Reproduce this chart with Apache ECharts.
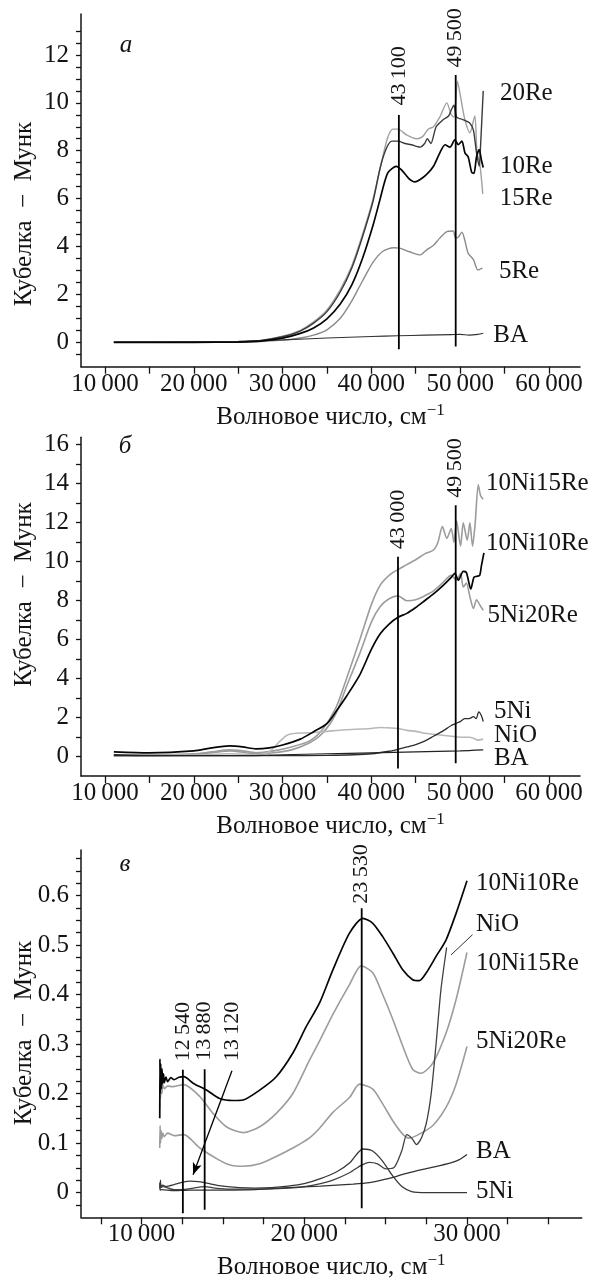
<!DOCTYPE html>
<html><head><meta charset="utf-8">
<script src="https://cdn.jsdelivr.net/npm/echarts@6/dist/echarts.min.js"></script>
<style>html,body{margin:0;padding:0;background:#fff}#c{width:592px;height:1278px}</style>
</head><body><div id="c"></div>
<script>
// ---------------- Panel а ----------------
const aRe15 = [[11000,0],[20000,0],[25000,0.02],[27500,0.08],[30000,0.25],[32000,0.5],[33500,0.85],[35000,1.35],[36500,2.2],[37800,3.2],[39000,4.5],[40200,6.0],[41200,7.6],[41800,8.5],[42400,8.9],[43000,8.9],[44000,8.65],[45100,8.5],[45800,8.6],[46400,8.9],[47000,9.0],[47700,9.4],[48500,10.0],[49000,9.5],[49300,9.4],[49700,10.9],[50050,10.25],[50500,9.35],[51100,8.75],[51650,9.45],[51900,7.9],[52200,7.5],[52550,6.2]];
const aRe20 = [[11000,0],[20000,0],[25000,0.02],[27500,0.07],[30000,0.23],[32000,0.47],[33500,0.8],[35000,1.28],[36500,2.1],[37800,3.1],[39000,4.4],[40200,5.9],[41000,7.3],[41700,8.1],[42300,8.4],[43000,8.4],[43800,8.3],[44500,8.25],[45500,8.15],[46000,8.3],[46300,8.5],[46700,8.3],[47300,9.0],[48100,9.3],[48700,9.45],[49000,9.7],[49300,9.9],[49600,9.4],[50300,9.3],[51100,9.15],[51500,8.85],[51850,7.9],[52150,7.35],[52300,8.2],[52600,10.5]];
const aRe10 = [[11000,0],[20000,0],[25000,0.01],[27500,0.05],[30000,0.17],[32000,0.37],[33500,0.6],[35000,0.98],[36500,1.6],[37800,2.4],[39000,3.5],[40200,4.9],[41000,6.0],[41500,6.7],[41900,7.1],[42800,7.35],[43400,7.2],[44200,6.85],[44900,6.7],[45500,6.8],[46200,7.0],[47000,7.35],[47700,7.9],[48300,8.25],[48850,8.15],[49400,8.45],[49800,8.25],[50200,8.4],[50550,7.9],[50900,7.75],[51300,7.1],[51550,7.05],[51850,7.75],[52150,8.05],[52400,7.6],[52600,7.3]];
const aRe5 = [[11000,0],[20000,0],[25000,0.01],[27500,0.03],[30000,0.09],[32000,0.18],[33500,0.3],[35000,0.52],[36500,1.0],[37600,1.6],[38700,2.35],[39500,2.9],[40200,3.35],[41300,3.8],[42500,3.95],[43200,3.93],[44300,3.78],[45500,3.65],[46200,3.85],[47000,4.05],[47700,4.35],[48500,4.62],[49200,4.65],[49500,4.35],[49800,4.4],[50200,4.6],[50500,4.3],[50900,3.72],[51500,3.45],[52000,3.02],[52500,3.1]];
const aBA = [[11000,0],[20000,0.02],[25000,0.04],[30000,0.1],[35000,0.18],[40000,0.24],[43000,0.27],[46000,0.3],[49000,0.32],[50000,0.33],[51000,0.3],[52000,0.33],[52600,0.38]];
const aPeaks = [43100, 49500];
const aPeakLow = [-0.29, -0.18];
const aPeakHigh = [9.49, 11.16];

// ---------------- Panel б ----------------
const bNi10Re15 = [[11000,0.1],[15000,0.1],[20000,0.15],[22000,0.25],[24000,0.35],[25500,0.3],[27000,0.2],[29000,0.3],[31000,0.5],[33000,0.8],[34500,1.4],[36000,2.5],[37200,4.0],[38700,6.0],[40000,7.8],[41000,8.8],[42000,9.3],[43000,9.6],[44000,9.85],[45000,10.1],[46000,10.4],[47000,10.6],[47500,11.0],[48000,11.8],[48500,11.2],[49000,11.7],[49300,11.0],[49600,12.1],[50050,10.8],[50350,12.0],[50800,11.1],[51100,12.0],[51400,10.8],[51700,12.0],[52040,13.95],[52300,13.4],[52600,13.2]];
const bNi5Re20 = [[11000,0.05],[20000,0.1],[24000,0.3],[27000,0.15],[29000,0.2],[31000,0.35],[33000,0.7],[34500,1.2],[36000,2.2],[37200,3.6],[38700,5.3],[40000,6.9],[41000,7.7],[42000,8.1],[43000,8.25],[44000,8.0],[45000,8.05],[46000,8.25],[47000,8.5],[48000,8.9],[49000,9.3],[49600,9.05],[50050,9.4],[50350,8.7],[50700,8.9],[51100,8.2],[51500,7.6],[51850,8.05],[52200,7.8],[52600,7.5]];
const bNi10Re10 = [[11000,0.25],[15000,0.2],[20000,0.3],[22000,0.45],[24000,0.55],[25500,0.5],[27000,0.4],[28500,0.45],[30000,0.6],[32000,0.9],[33500,1.28],[35000,1.7],[36000,2.3],[37200,3.1],[38700,4.2],[40000,5.5],[41000,6.3],[42000,6.8],[43000,7.15],[44000,7.35],[45000,7.65],[46000,8.0],[47000,8.35],[48000,8.75],[49000,9.2],[49400,9.4],[49800,9.05],[50350,9.5],[50700,9.45],[51200,8.6],[51550,9.2],[51860,9.25],[52200,9.3],[52400,9.8],[52680,10.45]];
const bNi5 = [[11000,0.1],[15000,0.05],[20000,0.05],[25000,0.05],[30000,0.05],[35000,0.07],[38000,0.1],[40000,0.15],[42000,0.28],[43000,0.38],[44000,0.5],[45000,0.62],[46000,0.8],[47000,1.05],[48000,1.3],[49000,1.6],[49500,1.7],[50000,1.8],[50500,1.95],[51000,1.95],[51500,2.05],[51800,1.95],[52100,2.3],[52400,2.1],[52600,1.8]];
const bNiO = [[11000,0.05],[20000,0.08],[24000,0.15],[27000,0.1],[28500,0.25],[29500,0.7],[30500,1.1],[31500,1.2],[33000,1.22],[35000,1.3],[37000,1.38],[39000,1.42],[40000,1.45],[41000,1.5],[42000,1.48],[43000,1.45],[44000,1.35],[45000,1.3],[46000,1.2],[47000,1.15],[48000,1.1],[49000,1.05],[50000,1.0],[51000,1.0],[51500,0.95],[52000,0.85],[52600,0.9]];
const bBA = [[11000,0.05],[25000,0.05],[30000,0.1],[35000,0.15],[40000,0.2],[45000,0.25],[50000,0.3],[52600,0.35]];
const bPeaks = [43000, 49500];
const bPeakLow = [-0.6, -0.34];
const bPeakHigh = [10.26, 12.9];

// ---------------- Panel в ----------------
const cNi10Re10 = [[11120,0.15],[11130,0.27],[11150,0.2],[11180,0.26],[11220,0.21],[11260,0.25],[11300,0.22],[11350,0.24],[11400,0.222],[11500,0.233],[11600,0.224],[11800,0.232],[12000,0.228],[12300,0.233],[12600,0.234],[13170,0.221],[13990,0.207],[14800,0.19],[15620,0.186],[16230,0.187],[17260,0.207],[18280,0.234],[19300,0.282],[20120,0.335],[20940,0.383],[21760,0.45],[22780,0.524],[23600,0.554],[24210,0.544],[24820,0.517],[25440,0.484],[26050,0.45],[26660,0.43],[27070,0.428],[27480,0.443],[28100,0.477],[28710,0.51],[29330,0.564],[30000,0.63]];
const cNi10Re15 = [[11120,0.17],[11140,0.23],[11170,0.19],[11200,0.225],[11250,0.2],[11300,0.218],[11400,0.21],[11600,0.215],[11940,0.214],[12600,0.218],[13580,0.194],[14390,0.16],[15210,0.133],[16230,0.121],[17260,0.133],[18280,0.16],[19300,0.2],[20330,0.268],[21000,0.31],[21760,0.36],[22780,0.42],[23500,0.458],[24210,0.444],[24820,0.40],[25440,0.35],[26050,0.296],[26660,0.249],[27170,0.241],[27890,0.261],[28710,0.322],[29330,0.39],[30000,0.485]];
const cNi5Re20 = [[11120,0.09],[11140,0.135],[11170,0.1],[11200,0.125],[11250,0.11],[11300,0.12],[11400,0.113],[11600,0.12],[12000,0.115],[12600,0.117],[13580,0.09],[14800,0.065],[15500,0.055],[16230,0.053],[17260,0.058],[18280,0.073],[19300,0.09],[20300,0.11],[20940,0.13],[21760,0.162],[22780,0.192],[23400,0.219],[24210,0.209],[24820,0.179],[25440,0.145],[26050,0.118],[26460,0.11],[27070,0.118],[27890,0.135],[28710,0.172],[29330,0.219],[30000,0.295]];
const cNiO = [[11120,0.008],[11150,0.02],[11200,0.01],[11300,0.012],[12000,0.006],[12540,0.006],[13000,0.008],[13880,0.012],[14500,0.009],[15500,0.007],[17000,0.007],[19000,0.009],[20000,0.012],[21000,0.018],[21760,0.025],[22780,0.04],[23500,0.055],[24000,0.061],[24500,0.058],[25000,0.048],[25500,0.05],[26000,0.085],[26300,0.117],[26600,0.11],[26900,0.097],[27200,0.11],[27500,0.14],[27800,0.2],[28100,0.3],[28400,0.41],[28750,0.495]];
const cNi5 = [[11120,0.02],[11140,0.005],[11160,0.025],[11200,0.012],[11300,0.015],[11500,0.012],[12000,0.016],[12540,0.021],[13000,0.023],[13500,0.022],[14000,0.019],[15000,0.013],[16000,0.01],[17000,0.009],[18000,0.01],[19000,0.013],[20000,0.018],[21000,0.028],[22000,0.042],[22800,0.06],[23600,0.088],[24200,0.084],[24800,0.064],[25400,0.035],[26000,0.012],[26600,0.002],[27500,0],[29000,0],[30000,0]];
const cBA = [[11120,0.005],[11200,0.006],[12000,0.004],[13000,0.005],[15000,0.005],[17000,0.006],[19000,0.01],[21000,0.013],[23000,0.017],[24000,0.02],[25000,0.027],[26000,0.036],[27000,0.045],[28000,0.052],[29000,0.06],[29500,0.066],[30000,0.077]];
const cPeaks = [12540, 13880, 23530];
const cPeakLow = [-0.042, -0.035, -0.0315];
const cPeakHigh = [0.248, 0.249, 0.5745];
const cArrowValue = 13120;
const cArrowFrom = [15558, 0.246];
const cArrowTo = [13166, 0.036];
const cNiOLeader = [[29018, 0.48], [30344, 0.521]];

// ---------------- Axes ticks / labels ----------------
const xTicksAB = [10000,15000,20000,25000,30000,35000,40000,45000,50000,55000,60000];
const xLabelsAB = [10000,20000,30000,40000,50000,60000];
const xTicksC = [7500,10000,12500,15000,17500,20000,22500,25000,27500,30000,32500,35000];
const xLabelsC = [10000,20000,30000];
const yLabelsA = [0,2,4,6,8,10,12];
const yLabelsB = [0,2,4,6,8,10,12,14,16];
const yLabelsC = [0,0.1,0.2,0.3,0.4,0.5,0.6];
function steps(from, to, step){ const r=[]; const n=Math.round((to-from)/step); for(let i=0;i<=n;i++) r.push(+(from+i*step).toFixed(4)); return r; }
const yTicksA = steps(-0.5, 13, 0.5);
const yTicksB = steps(0, 16, 1);
const yTicksC = steps(-0.025, 0.675, 0.025);

const FONT = '"Liberation Serif","DejaVu Serif",serif';
const INK = '#141414';
const fmtK = v => String(v).replace(/\B(?=(\d{3})+(?!\d))/g, '\u2009');

function xAxis(gi, min, max, ticks, labels){
  return {type:'value', gridIndex:gi, min, max,
    axisLine:{show:true, onZero:false, lineStyle:{color:INK, width:1.5}},
    axisTick:{show:true, inside:false, length:7, customValues:ticks, lineStyle:{color:INK, width:1.3}},
    axisLabel:{show:true, customValues:labels, margin:5, formatter:fmtK, color:INK, fontFamily:FONT, fontSize:25},
    splitLine:{show:false},
    name:'{m|Волновое число, см}{sup|−1}', nameLocation:'middle', nameGap:35,
    nameTextStyle:{color:INK, fontFamily:FONT, fontSize:25,
      rich:{
        m:{fontSize:25, fontFamily:FONT, color:INK, verticalAlign:'bottom'},
        sup:{fontSize:17, fontFamily:FONT, color:INK, verticalAlign:'bottom', padding:[0,0,11,0]}}}
  };
}
function yAxis(gi, min, max, ticks, labels, fmt){
  return {type:'value', gridIndex:gi, min, max,
    axisLine:{show:true, onZero:false, lineStyle:{color:INK, width:1.5}},
    axisTick:{show:true, inside:false, length:5, customValues:ticks, lineStyle:{color:INK, width:1.3}},
    axisLabel:{show:true, customValues:labels, margin:12, formatter:fmt, color:INK, fontFamily:FONT, fontSize:25},
    splitLine:{show:false}
  };
}
function curve(gi, name, data, color, width, off){
  return {type:'line', name, xAxisIndex:gi, yAxisIndex:gi, data, symbol:'none', showSymbol:false,
    smooth:0.25, lineStyle:{color, width}, animation:false, emphasis:{disabled:true}, silent:true,
    endLabel:{show:true, formatter:name, distance:0, offset:off, color:INK, fontFamily:FONT, fontSize:25, align:'left', verticalAlign:'middle'}};
}
const TRANSP = {color:'rgba(0,0,0,0)', borderWidth:0};
function vline(gi, x, lo, hi, dist){
  return {type:'line', xAxisIndex:gi, yAxisIndex:gi, symbol:'circle', symbolSize:1, showSymbol:true, itemStyle:TRANSP,
    lineStyle:{color:'#000', width:1.8}, animation:false, silent:true, z:5, emphasis:{disabled:true},
    data:[[x,lo], {value:[x,hi], label:{show:true, formatter:fmtK(x), position:'top', rotate:90, align:'left', verticalAlign:'middle',
      distance:dist, color:INK, fontFamily:FONT, fontSize:22}}]};
}

const series = [
  curve(0,'15Re',aRe15,'#a0a0a0',1.4,[17,4.5]),
  curve(0,'5Re',aRe5,'#8a8a8a',1.4,[16.6,3.7]),
  curve(0,'BA',aBA,'#333333',1.1,[10,1.8]),
  curve(0,'20Re',aRe20,'#3a3a3a',1.4,[16.7,2.5]),
  curve(0,'10Re',aRe10,'#050505',1.7,[16.7,-1]),
  curve(1,'10Ni15Re',bNi10Re15,'#9c9c9c',1.6,[2.7,-16]),
  curve(1,'5Ni20Re',bNi5Re20,'#9c9c9c',1.6,[4.3,5]),
  curve(1,'NiO',bNiO,'#b8b8b8',1.6,[10.7,-4]),
  curve(1,'5Ni',bNi5,'#2c2c2c',1.3,[10.7,-10]),
  curve(1,'BA',bBA,'#222222',1.2,[10.7,8.4]),
  curve(1,'10Ni10Re',bNi10Re10,'#050505',1.7,[2,-9.6]),
  curve(2,'10Ni15Re',cNi10Re15,'#9c9c9c',1.6,[9,10.7]),
  curve(2,'5Ni20Re',cNi5Re20,'#9c9c9c',1.6,[9,-5]),
  Object.assign(curve(2,'NiO',cNiO,'#404040',1.3,[29.4,-22.7]), {
    markLine:{silent:true, symbol:'none', animation:false, label:{show:false}, emphasis:{disabled:true},
      lineStyle:{color:'#333', width:1, type:'solid'},
      data:[[{coord:cNiOLeader[0]},{coord:cNiOLeader[1]}]]}}),
  curve(2,'BA',cBA,'#333333',1.3,[9,-3]),
  curve(2,'5Ni',cNi5,'#383838',1.3,[9,-1]),
  curve(2,'10Ni10Re',cNi10Re10,'#050505',1.7,[9,2.5]),
  vline(0,aPeaks[0],aPeakLow[0],aPeakHigh[0],9),
  vline(0,aPeaks[1],aPeakLow[1],aPeakHigh[1],7),
  vline(1,bPeaks[0],bPeakLow[0],bPeakHigh[0],7),
  vline(1,bPeaks[1],bPeakLow[1],bPeakHigh[1],7),
  vline(2,cPeaks[0],cPeakLow[0],cPeakHigh[0],8),
  vline(2,cPeaks[1],cPeakLow[1],cPeakHigh[1],8),
  vline(2,cPeaks[2],cPeakLow[2],cPeakHigh[2],4),
  {type:'line', xAxisIndex:2, yAxisIndex:2, symbol:'circle', symbolSize:1, showSymbol:true, itemStyle:TRANSP,
    animation:false, silent:true, z:5,
    data:[{value:cArrowFrom, label:{show:true, formatter:fmtK(cArrowValue), position:'top', rotate:90, align:'left', verticalAlign:'middle',
      distance:9, color:INK, fontFamily:FONT, fontSize:22}}],
    markLine:{silent:true, animation:false, symbol:['none','arrow'], symbolSize:[7,12], label:{show:false}, emphasis:{disabled:true},
      lineStyle:{color:'#000', width:1.3, type:'solid'},
      data:[[{coord:cArrowFrom},{coord:cArrowTo}]]}}
];

function ytitle(y){
  return {type:'text', x:24, y, rotation:Math.PI/2, silent:true,
    style:{text:'Кубелка  −  Мунк', fill:INK, fontFamily:FONT, fontSize:25, align:'center', verticalAlign:'middle'}};
}
function letter(t, x, y){
  return {type:'text', x, y, silent:true,
    style:{text:t, fill:INK, fontFamily:FONT, fontSize:25, fontStyle:'italic', align:'center', verticalAlign:'middle'}};
}

const option = {
  backgroundColor:'#ffffff',
  animation:false,
  grid:[
    {left:81, top:14, width:499, height:352.7, outerBoundsMode:'none', containLabel:false},
    {left:81, top:437.3, width:499, height:338.7, outerBoundsMode:'none', containLabel:false},
    {left:81, top:850, width:500.7, height:367.3, outerBoundsMode:'none', containLabel:false}
  ],
  xAxis:[
    xAxis(0, 7300, 63500, xTicksAB, xLabelsAB),
    xAxis(1, 7300, 63500, xTicksAB, xLabelsAB),
    xAxis(2, 6280, 37050, xTicksC, xLabelsC)
  ],
  yAxis:[
    yAxis(0, -1.02, 13.71, yTicksA, yLabelsA, v => String(v)),
    yAxis(1, -0.99, 16.38, yTicksB, yLabelsB, v => String(v)),
    yAxis(2, -0.05, 0.692, yTicksC, yLabelsC, v => v === 0 ? '0' : v.toFixed(1))
  ],
  series,
  graphic:[
    ytitle(214), ytitle(594.6), ytitle(1033),
    letter('а',126,45), letter('б',125,446), letter('в',125,864)
  ]
};
const chart = echarts.init(document.getElementById('c'), null, {renderer:'canvas'});
chart.setOption(option);
</script></body></html>
